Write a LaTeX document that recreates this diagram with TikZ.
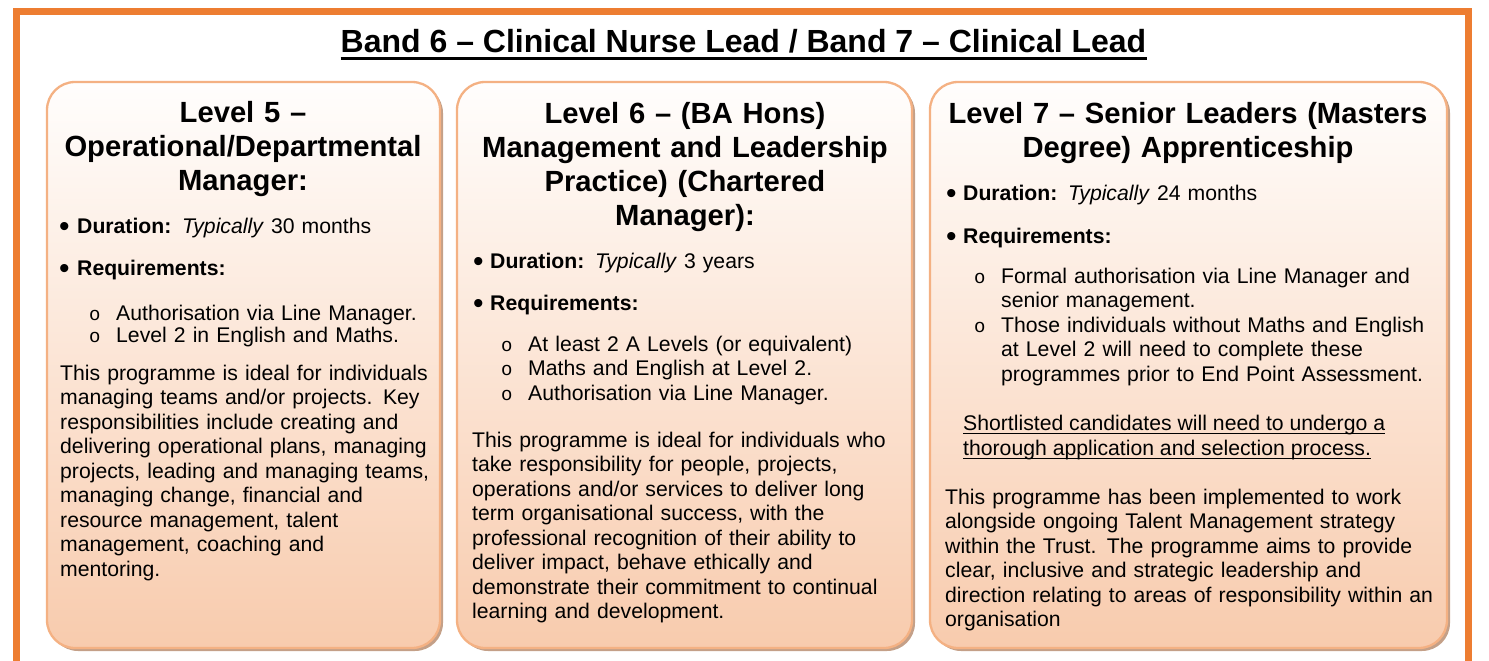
\documentclass[tikz,border=0pt]{standalone}
\usepackage{fontspec}
\setmainfont{Liberation Sans}
\newfontfamily\monofam{Liberation Mono}
\usetikzlibrary{shadows}
\definecolor{bandorange}{HTML}{ED7D31}
\definecolor{panelborder}{HTML}{F4B183}
\definecolor{paneltop}{HTML}{FFFEFD}
\definecolor{panelbottom}{HTML}{F8CBAD}
\definecolor{panelshadow}{RGB}{196,160,136}
\newcommand{\bul}[1]{\makebox[#1][l]{\raisebox{-3.5pt}{\fontsize{30pt}{30pt}\selectfont •}}}
\newcommand{\subm}{\makebox[27pt][l]{\fontsize{19pt}{19pt}\monofam o}}
\tikzset{
  frame/.style={draw=bandorange, line width=7pt},
  panel/.style={draw=panelborder, line width=2.3pt, rounded corners=28pt,
    top color=paneltop, bottom color=panelbottom, inner sep=0pt,
    general shadow={fill=panelshadow, shadow xshift=3pt, shadow yshift=-3pt}},
  maintitle/.style={anchor=base, inner sep=0pt, font=\bfseries\fontsize{32pt}{38pt}\selectfont},
  heading/.style={anchor=base, align=center, text width=500pt, inner sep=0pt,
    font=\bfseries\fontsize{29.2pt}{34pt}\selectfont},
  body/.style={anchor=base west, align=left, text width=540pt, inner sep=0pt,
    font=\fontsize{21.2pt}{24.5pt}\selectfont},
  tightbody/.style={body, font=\fontsize{21.2pt}{22pt}\selectfont},
  uline/.style={anchor=base west, inner sep=0pt, font=\fontsize{21.2pt}{24.5pt}\selectfont},
  ulrule/.style={line width=1.4pt},
}
\begin{document}
\begin{tikzpicture}[x=1pt, y=-1pt]
\useasboundingbox (0,0) rectangle (1489,661);
% outer frame
\draw[frame] (16,661) -- (16,11.5) -- (1468.5,11.5) -- (1468.5,661);
% title
\node[maintitle] (title) at (743.5,53) {Band 6 – Clinical Nurse Lead / Band 7 – Clinical Lead};
\draw[line width=2.6pt] ([yshift=-5.5pt]title.base west) -- ([yshift=-5.5pt]title.base east);

% panels
\node[panel, minimum width=393pt, minimum height=566pt] (box1) at (243.5,365) {};
\node[panel, minimum width=455pt, minimum height=566pt] (box2) at (684.5,365) {};
\node[panel, minimum width=517pt, minimum height=566pt] (box3) at (1188.5,365) {};

% ---- Box 1
\node[heading] (h1) at (243,122) {Level 5 –\\Operational/Departmental\\Manager:};
\node[body] (d1) at (59,233) {\bul{18pt}\textbf{Duration:} \textit{Typically} 30 months};
\node[body] (r1) at (59,275) {\bul{18pt}\textbf{Requirements:}};
\node[tightbody] (s1) at (89,320) {\subm Authorisation via Line Manager.\\ \subm Level 2 in English and Maths.};
\node[body] (p1) at (60,380) {This programme is ideal for individuals\\
managing teams and/or projects. Key\\
responsibilities include creating and\\
delivering operational plans, managing\\
projects, leading and managing teams,\\
managing change, financial and\\
resource management, talent\\
management, coaching and\\
mentoring.};

% ---- Box 2
\node[heading] (h2) at (685,123) {Level 6 – (BA Hons)\\Management and Leadership\\Practice) (Chartered\\Manager):};
\node[body] (d2) at (473,268) {\bul{17pt}\textbf{Duration:} \textit{Typically} 3 years};
\node[body] (r2) at (473,310) {\bul{17pt}\textbf{Requirements:}};
\node[body] (s2) at (501,351) {\subm At least 2 A Levels (or equivalent)\\ \subm Maths and English at Level 2.\\ \subm Authorisation via Line Manager.};
\node[body] (p2) at (472,447) {This programme is ideal for individuals who\\
take responsibility for people, projects,\\
operations and/or services to deliver long\\
term organisational success, with the\\
professional recognition of their ability to\\
deliver impact, behave ethically and\\
demonstrate their commitment to continual\\
learning and development.};

% ---- Box 3
\node[heading] (h3) at (1188,123) {Level 7 – Senior Leaders (Masters\\Degree) Apprenticeship};
\node[body] (d3) at (946,200) {\bul{17pt}\textbf{Duration:} \textit{Typically} 24 months};
\node[body] (r3) at (946,243) {\bul{17pt}\textbf{Requirements:}};
\node[body] (s3) at (974,283) {\subm Formal authorisation via Line Manager and\\
\hspace*{27pt}senior management.\\
\subm Those individuals without Maths and English\\
\hspace*{27pt}at Level 2 will need to complete these\\
\hspace*{27pt}programmes prior to End Point Assessment.};
\node[uline] (u1) at (963,430) {Shortlisted candidates will need to undergo a};
\node[uline] (u2) at (963,455) {thorough application and selection process.};
\draw[ulrule] ([yshift=-3.5pt]u1.base west) -- ([yshift=-3.5pt]u1.base east);
\draw[ulrule] ([yshift=-3.5pt]u2.base west) -- ([yshift=-3.5pt]u2.base east);
\node[body] (p3) at (945,504) {This programme has been implemented to work\\
alongside ongoing Talent Management strategy\\
within the Trust. The programme aims to provide\\
clear, inclusive and strategic leadership and\\
direction relating to areas of responsibility within an\\
organisation};
\end{tikzpicture}
\end{document}
